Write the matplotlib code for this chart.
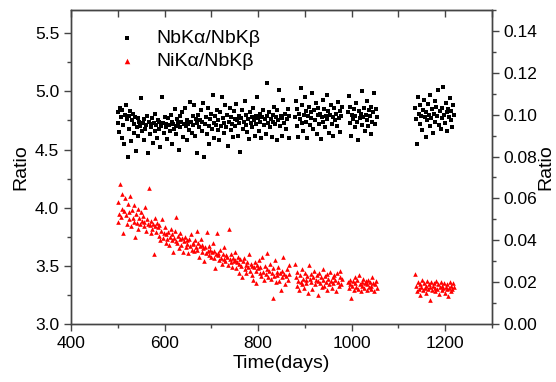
import numpy as np
import matplotlib
matplotlib.use("Agg")
import matplotlib.pyplot as plt
from matplotlib.ticker import MultipleLocator

plt.rcParams['font.family'] = ['Liberation Sans', 'DejaVu Sans']

# measurement days, four runs with gaps in between
days_a = [500, 501, 503, 505, 507, 508, 510, 512, 514, 516,
          517, 519, 521, 523, 525, 526, 528, 530, 532, 534,
          535, 537, 539, 541, 543, 544, 546, 548, 550, 552,
          553, 555, 557, 559, 561, 562, 564, 566, 568, 570,
          571, 573, 575, 577, 579, 580, 582, 584, 586, 588,
          589, 591, 593, 595, 597, 598, 600, 602, 604, 606,
          607, 609, 611, 613, 615, 616, 618, 620, 622, 624,
          625, 627, 629, 631, 633, 634, 636, 638, 640, 642,
          643, 645, 647, 649, 651, 652, 654, 656, 658, 660,
          661, 663, 665, 667, 669, 670, 672, 674, 676, 678,
          679, 681, 683, 685, 687, 688, 690, 692, 694, 696,
          697, 699, 701, 703, 705, 706, 708, 710, 712, 714,
          715, 717, 719, 721, 723, 724, 726, 728, 730, 732,
          733, 735, 737, 739, 741, 742, 744, 746, 748, 750,
          751, 753, 755, 757, 759, 760, 762, 764, 766, 768,
          769, 771, 773, 775, 777, 778, 780, 782, 784, 786,
          787, 789, 791, 793, 795, 796, 798, 800, 802, 804,
          805, 807, 809, 811, 813, 814, 816, 818, 820, 822,
          823, 825, 827, 829, 831, 832, 834, 836, 838, 840,
          841, 843, 845, 847, 849, 850, 852, 854, 856, 858,
          859, 861, 863, 865, 867]
days_b = [878, 880, 882, 884, 885, 887, 889, 891, 893, 894,
          896, 898, 900, 902, 903, 905, 907, 909, 911, 912,
          914, 916, 918, 920, 921, 923, 925, 927, 929, 930,
          932, 934, 936, 938, 939, 941, 943, 945, 947, 948,
          950, 952, 954, 956, 957, 959, 961, 963, 965, 966,
          968, 970, 972, 974, 975, 977, 979]
days_c = [992, 994, 996, 997, 999, 1001, 1003, 1005, 1006, 1008,
          1010, 1012, 1014, 1015, 1017, 1019, 1021, 1023, 1024, 1026,
          1028, 1030, 1032, 1033, 1035, 1037, 1039, 1041, 1042, 1044,
          1046, 1048, 1050, 1051, 1053]
days_d = [1136, 1138, 1140, 1141, 1143, 1145, 1147, 1149, 1150, 1152,
          1154, 1156, 1158, 1159, 1161, 1163, 1165, 1167, 1168, 1170,
          1172, 1174, 1176, 1177, 1179, 1181, 1183, 1185, 1186, 1188,
          1190, 1192, 1194, 1195, 1197, 1199, 1201, 1203, 1204, 1206,
          1208, 1210, 1212, 1213, 1215, 1217, 1219]

# NbKa/NbKb ratio
nb_a = [4.82, 4.73, 4.65, 4.86, 4.78, 4.60, 4.84, 4.71, 4.55, 4.80,
        4.88, 4.76, 4.44, 4.79, 4.68, 4.83, 4.57, 4.75, 4.81, 4.64,
        4.72, 4.78, 4.49, 4.69, 4.77, 4.62, 4.74, 4.70, 4.94, 4.66,
        4.73, 4.58, 4.76, 4.68, 4.71, 4.79, 4.47, 4.74, 4.63, 4.72,
        4.69, 4.77, 4.56, 4.73, 4.66, 4.81, 4.71, 4.60, 4.75, 4.68,
        4.74, 4.52, 4.70, 4.95, 4.73, 4.64, 4.78, 4.69, 4.72, 4.59,
        4.77, 4.71, 4.66, 4.80, 4.74, 4.55, 4.72, 4.68, 4.85, 4.70,
        4.63, 4.76, 4.73, 4.50, 4.79, 4.69, 4.74, 4.82, 4.61, 4.72,
        4.86, 4.70, 4.75, 4.58, 4.72, 4.67, 4.91, 4.74, 4.64, 4.79,
        4.71, 4.88, 4.62, 4.76, 4.73, 4.47, 4.80, 4.69, 4.75, 4.84,
        4.66, 4.74, 4.90, 4.44, 4.72, 4.78, 4.63, 4.86, 4.70, 4.55,
        4.76, 4.81, 4.68, 4.97, 4.73, 4.60, 4.79, 4.71, 4.84, 4.67,
        4.75, 4.58, 4.82, 4.70, 4.95, 4.77, 4.64, 4.73, 4.88, 4.69,
        4.80, 4.53, 4.74, 4.86, 4.67, 4.78, 4.72, 4.61, 4.83, 4.76,
        4.70, 4.89, 4.75, 4.62, 4.79, 4.73, 4.48, 4.77, 4.84, 4.68,
        4.74, 4.92, 4.71, 4.80, 4.65, 4.76, 4.59, 4.82, 4.73, 4.78,
        4.69, 4.86, 4.75, 4.62, 4.79, 4.72, 4.95, 4.77, 4.66, 4.81,
        4.74, 4.60, 4.78, 4.84, 4.71, 4.76, 4.63, 4.79, 5.07, 4.73,
        4.82, 4.69, 4.76, 4.61, 4.80, 4.74, 4.87, 4.72, 4.78, 4.58,
        4.84, 4.75, 5.01, 4.70, 4.79, 4.62, 4.77, 4.93, 4.73, 4.81,
        4.68, 4.76, 4.85, 4.60, 4.79]
nb_b = [4.78, 4.92, 4.70, 4.85, 4.61, 4.81, 4.76, 5.03, 4.73, 4.88,
        4.66, 4.80, 4.95, 4.74, 4.83, 4.60, 4.79, 4.87, 4.71, 4.82,
        4.77, 4.99, 4.68, 4.84, 4.75, 4.90, 4.63, 4.80, 4.86, 4.72,
        4.81, 4.59, 4.78, 4.93, 4.74, 4.85, 4.69, 4.79, 4.97, 4.76,
        4.83, 4.64, 4.80, 4.88, 4.72, 4.78, 4.62, 4.86, 4.75, 4.81,
        4.70, 4.91, 4.77, 4.65, 4.83, 4.79, 4.87]
nb_c = [4.82, 4.96, 4.73, 4.87, 4.62, 4.80, 4.76, 4.85, 4.69, 4.79,
        4.90, 4.74, 4.58, 4.83, 4.77, 4.81, 4.71, 5.00, 4.78, 4.86,
        4.66, 4.80, 4.75, 4.92, 4.70, 4.84, 4.79, 4.63, 4.87, 4.74,
        4.82, 4.99, 4.72, 4.85, 4.78]
nb_d = [4.86, 4.76, 4.55, 4.95, 4.81, 4.72, 4.88, 4.79, 4.67, 4.84,
        4.93, 4.78, 4.61, 4.82, 4.75, 4.89, 4.80, 4.70, 4.97, 4.77,
        4.85, 4.64, 4.81, 4.92, 4.74, 4.87, 4.79, 5.01, 4.71, 4.83,
        4.68, 4.86, 4.77, 5.04, 4.80, 4.73, 4.90, 4.82, 4.66, 4.85,
        4.78, 4.94, 4.75, 4.83, 4.69, 4.88, 4.80]

# NiKa/NbKb ratio
ni_a = [3.88, 4.05, 3.95, 4.20, 3.92, 3.99, 4.12, 3.78, 3.97, 4.08,
        3.94, 3.86, 4.03, 3.96, 3.90, 4.10, 3.84, 3.98, 3.91, 4.02,
        3.88, 3.75, 3.95, 3.87, 3.99, 3.82, 3.91, 3.86, 3.96, 3.89,
        3.93, 3.84, 3.88, 4.01, 3.80, 3.90, 3.86, 4.17, 3.85, 3.78,
        3.89, 3.82, 3.86, 3.60, 3.84, 3.91, 3.79, 3.87, 3.83, 3.76,
        3.85, 3.72, 3.80, 3.90, 3.74, 3.78, 3.83, 3.70, 3.77, 3.73,
        3.79, 3.68, 3.75, 3.82, 3.72, 3.77, 3.62, 3.74, 3.80, 3.71,
        3.92, 3.70, 3.76, 3.65, 3.73, 3.78, 3.68, 3.74, 3.62, 3.71,
        3.75, 3.66, 3.72, 3.69, 3.61, 3.73, 3.67, 3.77, 3.64, 3.70,
        3.69, 3.63, 3.72, 3.66, 3.80, 3.64, 3.70, 3.58, 3.67, 3.73,
        3.62, 3.68, 3.65, 3.54, 3.66, 3.61, 3.79, 3.63, 3.67, 3.59,
        3.64, 3.58, 3.62, 3.70, 3.57, 3.63, 3.48, 3.60, 3.78, 3.59,
        3.61, 3.55, 3.64, 3.57, 3.52, 3.60, 3.56, 3.66, 3.54, 3.59,
        3.58, 3.51, 3.82, 3.56, 3.53, 3.60, 3.49, 3.57, 3.54, 3.62,
        3.55, 3.48, 3.53, 3.58, 3.44, 3.52, 3.56, 3.50, 3.40, 3.54,
        3.57, 3.47, 3.51, 3.44, 3.53, 3.49, 3.60, 3.46, 3.52, 3.42,
        3.50, 3.38, 3.49, 3.53, 3.46, 3.35, 3.51, 3.48, 3.55, 3.44,
        3.49, 3.41, 3.58, 3.45, 3.38, 3.50, 3.43, 3.61, 3.47, 3.40,
        3.46, 3.52, 3.39, 3.44, 3.22, 3.48, 3.41, 3.55, 3.36, 3.45,
        3.42, 3.49, 3.37, 3.44, 3.29, 3.46, 3.40, 3.58, 3.43, 3.34,
        3.41, 3.47, 3.38, 3.51, 3.43]
ni_b = [3.52, 3.40, 3.33, 3.45, 3.37, 3.29, 3.42, 3.36, 3.47, 3.34,
        3.39, 3.31, 3.44, 3.38, 3.35, 3.41, 3.27, 3.51, 3.39, 3.43,
        3.36, 3.30, 3.40, 3.46, 3.34, 3.38, 3.42, 3.25, 3.37, 3.44,
        3.35, 3.40, 3.32, 3.47, 3.38, 3.33, 3.41, 3.36, 3.29, 3.43,
        3.39, 3.34, 3.45, 3.37, 3.31, 3.40, 3.35, 3.42, 3.38, 3.28,
        3.44, 3.36, 3.33, 3.40, 3.46, 3.34, 3.39]
ni_c = [3.36, 3.31, 3.38, 3.34, 3.22, 3.33, 3.37, 3.29, 3.40, 3.35,
        3.32, 3.38, 3.30, 3.42, 3.34, 3.28, 3.36, 3.33, 3.39, 3.31,
        3.35, 3.37, 3.29, 3.34, 3.38, 3.32, 3.36, 3.30, 3.33, 3.40,
        3.35, 3.28, 3.34, 3.37, 3.31]
ni_d = [3.43, 3.33, 3.28, 3.36, 3.30, 3.34, 3.25, 3.32, 3.38, 3.29,
        3.35, 3.31, 3.27, 3.33, 3.37, 3.30, 3.34, 3.21, 3.32, 3.36,
        3.29, 3.33, 3.35, 3.28, 3.31, 3.37, 3.30, 3.34, 3.26, 3.32,
        3.36, 3.29, 3.33, 3.31, 3.35, 3.27, 3.32, 3.30, 3.34, 3.24,
        3.31, 3.36, 3.28, 3.33, 3.30, 3.35, 3.32]

days = np.array(days_a + days_b + days_c + days_d)
nb = np.array(nb_a + nb_b + nb_c + nb_d)
ni = np.array(ni_a + ni_b + ni_c + ni_d)

fig = plt.figure(figsize=(5.56, 3.82), dpi=100)
ax = fig.add_axes([0.1277, 0.1518, 0.7573, 0.8220])

ax.scatter(days, nb, marker='s', s=6, color='black', linewidths=0,
           label='NbKα/NbKβ')
ax.scatter(days, ni, marker='^', s=11, color='#ff0000', linewidths=0,
           label='NiKα/NbKβ')

ax.set_xlim(400, 1300)
ax.set_ylim(3.0, 5.7)
ax.xaxis.set_major_locator(MultipleLocator(200))
ax.xaxis.set_minor_locator(MultipleLocator(100))
ax.yaxis.set_major_locator(MultipleLocator(0.5))
ax.yaxis.set_minor_locator(MultipleLocator(0.25))
ax.yaxis.set_major_formatter(matplotlib.ticker.FormatStrFormatter('%.1f'))
ax.tick_params(which='major', direction='out', length=5, width=1,
               labelsize=12.5, color='#444444', right=False)
ax.tick_params(which='minor', direction='out', length=3, width=1,
               color='#444444', right=False)
ax.set_xlabel('Time(days)', fontsize=14, labelpad=3)
ax.set_ylabel('Ratio', fontsize=14)

# top axis: ticks only, pointing inward
top = ax.secondary_xaxis('top')
top.xaxis.set_major_locator(MultipleLocator(200))
top.xaxis.set_minor_locator(MultipleLocator(100))
top.tick_params(which='both', direction='in', length=5, width=1,
                color='#444444', labeltop=False)

ax2 = ax.twinx()
ax2.set_ylim(0.0, 0.15)
ax2.yaxis.set_major_locator(MultipleLocator(0.02))
ax2.yaxis.set_minor_locator(MultipleLocator(0.01))
ax2.yaxis.set_major_formatter(matplotlib.ticker.FormatStrFormatter('%.2f'))
ax2.tick_params(which='major', direction='out', length=5, width=1,
                labelsize=12.5, color='#444444')
ax2.tick_params(which='minor', direction='out', length=3, width=1,
                color='#444444')
ax2.set_ylabel('Ratio', fontsize=14, labelpad=0)

for a in (ax, ax2):
    for sp in a.spines.values():
        sp.set_color('#444444')
        sp.set_linewidth(1)
top.spines['top'].set_color('#444444')

leg = ax.legend(loc='upper left', bbox_to_anchor=(0.06, 0.975), frameon=False,
                fontsize=14, handletextpad=0.5, labelspacing=0.25,
                markerscale=1.2, borderaxespad=0.2)

fig.savefig('out.png', dpi=100)
